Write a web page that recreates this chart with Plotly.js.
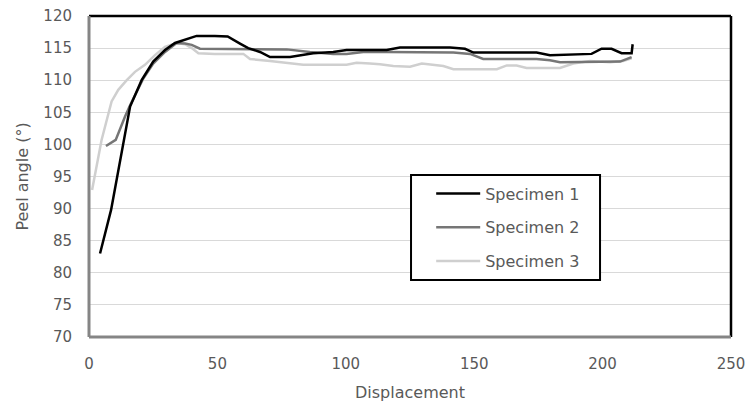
<!DOCTYPE html>
<html>
<head>
<meta charset="utf-8">
<script src="https://cdn.plot.ly/plotly-3.0.1.min.js"></script>
<style>html,body{margin:0;padding:0;background:#fff;}#chart{width:745px;height:410px;}</style>
</head>
<body>
<div id="chart"></div>
<script>
// Specimen 1
const s1x = [4.3, 8.6, 16, 20.5, 25, 29.6, 33.5, 37.4, 41.9, 49, 54, 58.8, 62, 66.6, 70.5, 78.3, 87.3, 95.1, 100.3, 113.3, 115.9, 121.1, 140.6, 146.4, 149.7, 174.3, 179.5, 195.7, 199.6, 203.5, 207.4, 211.3, 211.7];
const s1y = [83.0, 89.8, 105.9, 110.0, 112.9, 114.7, 115.8, 116.3, 116.9, 116.9, 116.8, 115.7, 115.0, 114.4, 113.6, 113.6, 114.2, 114.4, 114.7, 114.7, 114.7, 115.1, 115.1, 114.9, 114.3, 114.3, 113.9, 114.1, 114.9, 114.9, 114.2, 114.2, 115.6];
// Specimen 2
const s2x = [6.6, 10.4, 14, 16, 21.2, 25, 29.6, 34.1, 37.4, 40, 43.2, 77, 86, 95.1, 100.3, 106.8, 115.9, 141.9, 148.4, 153.5, 174.3, 179.5, 183.4, 195, 206.8, 211.3];
const s2y = [99.75, 100.7, 104.3, 106.1, 110.3, 112.6, 114.4, 115.8, 115.7, 115.5, 114.9, 114.8, 114.4, 114.1, 114.1, 114.4, 114.4, 114.3, 114.1, 113.3, 113.3, 113.1, 112.8, 112.8, 112.9, 113.6];
// Specimen 3
const s3x = [1.2, 4.9, 8.8, 11.4, 14.7, 17.9, 21.8, 25.7, 29.6, 34.1, 37.4, 40, 42.6, 49, 60.1, 62.7, 70.5, 83.4, 100.3, 104.2, 109.4, 113.3, 118.5, 125, 129.6, 138, 141.9, 158.8, 162.7, 166.5, 170.4, 183.4, 188.6, 195.1, 202.9, 208, 211.3];
const s3y = [92.9, 100.7, 106.7, 108.5, 110.0, 111.3, 112.4, 113.9, 115.2, 115.8, 115.6, 115.0, 114.2, 114.1, 114.1, 113.3, 113.0, 112.4, 112.4, 112.7, 112.6, 112.5, 112.2, 112.1, 112.6, 112.2, 111.7, 111.7, 112.3, 112.3, 111.9, 111.9, 112.6, 113.0, 112.8, 113.0, 113.4];

const names = ["Specimen 1", "Specimen 2", "Specimen 3"];
const colors = ["#000000", "#767676", "#cfcfcf"];
const xTicks = [0, 50, 100, 150, 200, 250];
const yTicks = [70, 75, 80, 85, 90, 95, 100, 105, 110, 115, 120];

const xs = [s1x, s2x, s3x], ys = [s1y, s2y, s3y];
const traces = [2, 1, 0].map(i => ({
  x: xs[i], y: ys[i], type: 'scatter', mode: 'lines', name: names[i],
  legendgroup: 'g' + i, legendrank: i + 1,
  line: {color: colors[i], width: 2.5, shape: 'linear'}
}));

const fontFam = '"DejaVu Sans", "Liberation Sans", sans-serif';
const layout = {
  width: 745, height: 410,
  margin: {l: 89, r: 14, t: 16, b: 73},
  paper_bgcolor: '#fff', plot_bgcolor: '#fff',
  font: {family: fontFam, size: 15, color: '#595959'},
  showlegend: true,
  legend: {
    x: 0.533, y: 0.50, xanchor: 'left', yanchor: 'top',
    bgcolor: 'rgba(0,0,0,0)', borderwidth: 0,
    font: {family: fontFam, size: 16, color: '#595959'},
    tracegroupgap: 10, traceorder: 'grouped', itemwidth: 44
  },
  xaxis: {
    range: [0, 250], tickvals: xTicks, ticktext: xTicks.map(String),
    showgrid: false, zeroline: false, showline: false, ticks: '',
    ticklabelstandoff: 16, tickfont: {size: 15}, ticklabeloverflow: 'allow',
    title: {text: 'Displacement', font: {size: 16, color: '#595959'}, standoff: 14}
  },
  yaxis: {
    range: [70, 120], tickvals: yTicks, ticktext: yTicks.map(String),
    showgrid: true, gridcolor: '#d9d9d9', gridwidth: 1, zeroline: false, showline: false, ticks: '',
    ticklabelstandoff: 16, tickfont: {size: 15},
    title: {text: 'Peel angle (°)', font: {size: 16, color: '#595959'}, standoff: 10}
  },
  shapes: [
    {type: 'line', xref: 'paper', yref: 'paper', x0: 0, x1: 1, y0: 1, y1: 1, line: {color: '#000', width: 2.5}},
    {type: 'line', xref: 'paper', yref: 'paper', x0: 1, x1: 1, y0: 0, y1: 1, line: {color: '#000', width: 2.5}},
    {type: 'line', xref: 'paper', yref: 'paper', x0: 0, x1: 0, y0: 0, y1: 1, line: {color: '#858585', width: 3}},
    {type: 'line', xref: 'paper', yref: 'paper', x0: 0, x1: 1, y0: 0, y1: 0, line: {color: '#858585', width: 3}},
    {type: 'rect', xref: 'paper', yref: 'paper', x0: 0.5016, x1: 0.796, y0: 0.1776, y1: 0.5047,
     fillcolor: '#fff', line: {color: '#000', width: 2}, layer: 'above'}
  ]
};
Plotly.newPlot('chart', traces, layout, {staticPlot: true, displayModeBar: false});
</script>
</body>
</html>
